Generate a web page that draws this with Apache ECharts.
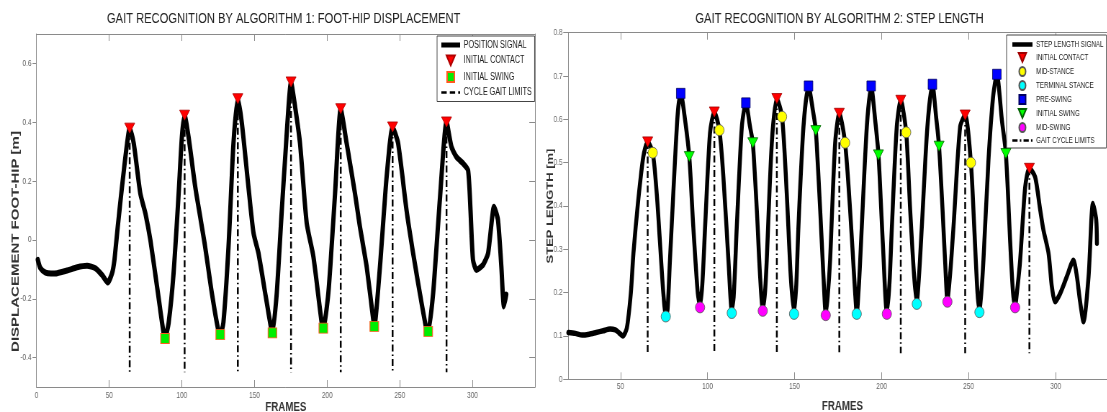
<!DOCTYPE html>
<html><head><meta charset="utf-8">
<script src="https://cdn.jsdelivr.net/npm/echarts@6/dist/echarts.min.js"></script>
<style>
html,body{margin:0;padding:0;overflow:hidden;background:#fff;width:1107px;height:412px}
#c{width:1560px;height:412px;transform:scaleX(0.72);transform-origin:0 0}
</style>
</head><body><div id="c"></div>
<script>
// ---------- LEFT CHART DATA (foot-hip displacement) ----------
const leftFrames = [0.9,2.7,6.2,10,14.2,21,28,34.8,40.5,45.1,49,52,53.6,55.9,58.8,62.3,64.1,66.9,71.4,74.9,78.3,82.9,87.4,88.4,90.9,94.3,97.8,100,101.9,104.6,109.2,112.6,116,120.6,125.2,126.4,128.6,132.1,135.5,138.5,141.3,145.8,149.3,152.7,157.3,161.2,162.3,165.3,168.5,172,175.1,178,181.3,185.9,190.5,196.2,197.3,200.8,205.4,209.3,213.4,219.1,222.5,227.1,231.7,232.4,236.3,240.9,245,248.8,254.6,259.1,263.7,268.3,269.5,272.9,277.5,282.1,285.5,288.9,293.5,296.9,298.6,300.3,302.7,307.2,310.7,314.8,317.5,319.8,321.6,323.2];
const leftValues = [-0.068,-0.096,-0.111,-0.114,-0.113,-0.104,-0.093,-0.088,-0.096,-0.119,-0.145,-0.113,-0.068,0.045,0.18,0.328,0.38,0.328,0.158,0.09,0,-0.158,-0.316,-0.333,-0.282,-0.113,0.158,0.35,0.424,0.35,0.18,0.079,-0.023,-0.18,-0.311,-0.322,-0.28,-0.023,0.328,0.48,0.396,0.18,0.023,-0.045,-0.18,-0.294,-0.316,-0.18,0.08,0.35,0.537,0.45,0.328,0.057,-0.057,-0.282,-0.3,-0.18,0.158,0.446,0.328,0.158,0.045,-0.09,-0.271,-0.294,-0.09,0.215,0.384,0.328,0.1,-0.045,-0.18,-0.305,-0.311,-0.18,0.136,0.401,0.316,0.282,0.26,0.237,0.1,-0.068,-0.102,-0.085,-0.045,0.113,0.068,-0.09,-0.226,-0.186];
const leftContactFrames = [64.1,101.9,138.5,175.1,209.3,245,282.1];
const leftContactValues = [0.38,0.424,0.48,0.537,0.446,0.384,0.401];
const leftSwingFrames = [88.4,126.4,162.3,197.3,232.4,269.5];
const leftSwingValues = [-0.335,-0.322,-0.316,-0.3,-0.294,-0.311];
const leftLimitBottom = -0.45;
const leftXTicks = [0,50,100,150,200,250,300];
const leftYTicks = [-0.4,-0.2,0,0.2,0.4,0.6];

// ---------- RIGHT CHART DATA (step length) ----------
const rightFrames = [20,24,28,32,36,40,44,47,49,51.3,53.6,55.9,57.4,60.2,63.1,65.6,68.5,70.8,72.7,74.6,76,77,78.4,81.3,83,84.6,87.1,89.5,91.8,94.4,95.7,97,98.6,101.4,103.9,106.8,109.1,112,113.9,115,116.8,119.7,122,124.4,126,128.3,130.2,131.7,133,134,136.9,139.8,142.8,145.5,147.8,149.7,151,152.2,155.1,158,160.5,162.2,164.7,166.6,167.9,169,170.4,173.3,175.7,179,181.9,184.8,185.7,187,188.6,191.5,194,196.3,198.2,200.7,203,204.5,205.9,208.7,211,214.1,216.4,218.7,220.2,221.5,223.1,226.3,229.2,231.3,233,235.5,236.5,237.8,239.5,241.3,245.1,248,251.3,253.2,255.1,256.2,257.3,258.5,261.4,264,266.2,269.1,271.4,273.9,275.5,276.7,278,279.6,282.5,284.9,288.2,291.1,293,295.9,297.8,299.7,302.6,306.4,310.2,312.2,314,316,318.9,321.4,323.3,323.7];
const rightValues = [0.108,0.106,0.102,0.104,0.108,0.112,0.116,0.114,0.108,0.1,0.118,0.198,0.29,0.414,0.514,0.548,0.523,0.429,0.314,0.198,0.15,0.16,0.275,0.506,0.62,0.66,0.598,0.514,0.352,0.198,0.17,0.22,0.352,0.568,0.617,0.575,0.467,0.275,0.16,0.19,0.352,0.583,0.638,0.583,0.546,0.391,0.237,0.162,0.2,0.275,0.545,0.648,0.606,0.429,0.237,0.155,0.22,0.352,0.583,0.677,0.621,0.574,0.391,0.237,0.152,0.19,0.275,0.545,0.614,0.546,0.391,0.198,0.152,0.22,0.352,0.583,0.677,0.598,0.518,0.314,0.155,0.22,0.352,0.583,0.644,0.57,0.391,0.237,0.178,0.24,0.352,0.583,0.681,0.606,0.538,0.352,0.27,0.182,0.25,0.352,0.583,0.61,0.5,0.352,0.198,0.16,0.2,0.275,0.506,0.65,0.704,0.598,0.521,0.314,0.2,0.17,0.21,0.275,0.444,0.487,0.467,0.391,0.344,0.291,0.214,0.179,0.198,0.237,0.275,0.237,0.18,0.133,0.237,0.406,0.368,0.314];
const rContactFrames = [65.6,103.9,139.8,175.7,211,248,284.9];
const rContactValues = [0.548,0.617,0.648,0.614,0.644,0.61,0.487];
const midStanceFrames = [68.5,106.8,142.8,179,214.1,251.3];
const midStanceValues = [0.523,0.575,0.606,0.546,0.57,0.5];
const termStanceFrames = [76,113.9,149.7,185.7,220.2,256.2];
const termStanceValues = [0.145,0.153,0.151,0.151,0.174,0.155];
const preSwingFrames = [84.6,122,158,194,229.2,266.2];
const preSwingValues = [0.66,0.638,0.677,0.677,0.681,0.704];
const initSwingFrames = [89.5,126,162.2,198.2,233,271.4];
const initSwingValues = [0.514,0.546,0.574,0.518,0.538,0.521];
const midSwingFrames = [95.7,131.7,167.9,203,237.8,276.7];
const midSwingValues = [0.166,0.158,0.148,0.151,0.179,0.166];
const rightLimitBottom = 0.06;
const rightXTicks = [50,100,150,200,250,300];
const rightYTicks = [0,0.1,0.2,0.3,0.4,0.5,0.6,0.7,0.8];

// ---------- helpers ----------
const FONT = '"Liberation Sans", Arial, Helvetica, sans-serif';
const AX = '#8a8a8a';
const pairs = (xs, ys) => xs.map((x, i) => [x, ys[i]]);
const limits = (xs, tops, bottom) => {
  const d = [];
  xs.forEach((x, i) => { d.push([x, tops[i]], [x, bottom], [x, '-']); });
  return d;
};
const TRI_DOWN = 'path://M0,0L10,0L5,8.5Z';
const SQUARE = 'path://M0,0H10V10H0Z';
const ICON_THICK_L = 'path://M0,0H26V5H0Z';
const ICON_THICK_R = 'path://M0,0H28V4.5H0Z';
const ICON_DASH_L = 'path://M0,0H7V2.5H0Z M11,0H18V2.5H11Z M22,0H24.5V2.5H22Z';
const ICON_DASH_R = 'path://M0,0H7V2.2H0Z M10,0H12V2.2H10Z M15,0H22V2.2H15Z M25,0H27V2.2H25Z';

function xAx(grid, min, max, ticks, labels, pos, nameGap, labelMargin) {
  const a = {
    gridIndex: grid, type: 'value', min: min, max: max, position: pos,
    axisLine: { show: true, onZero: false, lineStyle: { color: AX, width: 1 } },
    axisTick: { show: true, inside: true, length: 7, customValues: ticks, lineStyle: { color: AX } },
    axisLabel: { show: !!labels, customValues: labels || ticks, fontSize: 9, color: '#666', fontFamily: FONT, margin: labelMargin || 4 },
    splitLine: { show: false }
  };
  if (pos === 'bottom') {
    a.name = 'FRAMES'; a.nameLocation = 'middle'; a.nameGap = nameGap; a.nameMoveOverlap = false;
    a.nameTextStyle = { fontSize: 13.5, fontWeight: 'bold', color: '#333', fontFamily: FONT };
  }
  return a;
}

const chart = echarts.init(document.getElementById('c'), null, { renderer: 'canvas' });
chart.setOption({
  animation: false,
  backgroundColor: '#fff',
  title: [
    { text: 'GAIT RECOGNITION BY ALGORITHM 1: FOOT-HIP DISPLACEMENT', left: 389, top: 6, textAlign: 'center',
      textStyle: { fontSize: 15.5, fontWeight: 'normal', color: '#222', fontFamily: FONT } },
    { text: 'GAIT RECOGNITION BY ALGORITHM 2: STEP LENGTH', left: 1161, top: 6, textAlign: 'center',
      textStyle: { fontSize: 15.5, fontWeight: 'normal', color: '#222', fontFamily: FONT } }
  ],
  grid: [
    { left: 50.7, top: 34, width: 692.4, height: 353, outerBoundsMode: 'none', containLabel: false },
    { left: 789.3, top: 32.7, width: 761.5, height: 346.6, outerBoundsMode: 'none', containLabel: false }
  ],
  legend: [
    { data: [
        { name: 'POSITION SIGNAL', icon: ICON_THICK_L },
        { name: 'INITIAL CONTACT', icon: TRI_DOWN },
        { name: 'INITIAL SWING', icon: SQUARE },
        { name: 'CYCLE GAIT LIMITS', icon: ICON_DASH_L }
      ],
      orient: 'vertical', left: 607, top: 36, itemWidth: 26, itemHeight: 10, itemGap: 4.5,
      padding: [4, 4, 4, 6], borderColor: '#444', borderWidth: 1, backgroundColor: '#fff',
      selectedMode: false, textStyle: { fontSize: 10, lineHeight: 10, color: '#222', fontFamily: FONT } },
    { data: [
        { name: 'STEP LENGTH SIGNAL', icon: ICON_THICK_R },
        { name: 'INITIAL CONTACT ', icon: TRI_DOWN },
        { name: 'MID-STANCE', icon: 'circle' },
        { name: 'TERMINAL STANCE', icon: 'circle' },
        { name: 'PRE-SWING', icon: SQUARE },
        { name: 'INITIAL SWING ', icon: TRI_DOWN },
        { name: 'MID-SWING', icon: 'circle' },
        { name: 'GAIT CYCLE LIMITS', icon: ICON_DASH_R }
      ],
      orient: 'vertical', left: 1398, top: 35, itemWidth: 28, itemHeight: 9, itemGap: 3,
      padding: [5, 4, 3, 8], borderColor: '#444', borderWidth: 1, backgroundColor: '#fff',
      selectedMode: false, textStyle: { fontSize: 8.6, lineHeight: 9, color: '#222', fontFamily: FONT } }
  ],
  xAxis: [
    xAx(0, 0, 343, [50, 100, 150, 200, 250, 300], leftXTicks, 'bottom', 13, 4.5),
    xAx(0, 0, 343, [50, 100, 150, 200, 250, 300], null, 'top'),
    xAx(1, 20, 335, rightXTicks, rightXTicks, 'bottom', 20, 3),
    xAx(1, 20, 335, rightXTicks, null, 'top')
  ],
  yAxis: [
    { gridIndex: 0, type: 'value', min: -0.5, max: 0.7, position: 'left',
      axisLine: { show: true, onZero: false, lineStyle: { color: AX } },
      axisTick: { show: true, inside: false, length: 5.5, customValues: leftYTicks, lineStyle: { color: AX } },
      axisLabel: { customValues: leftYTicks, fontSize: 9, color: '#666', fontFamily: FONT, margin: 7 },
      splitLine: { show: false },
      name: 'DISPLACEMENT FOOT-HIP [m]', nameLocation: 'middle', nameGap: 21, nameMoveOverlap: false,
      nameTextStyle: { fontSize: 15, fontWeight: 'bold', color: '#333', fontFamily: FONT, padding: [0, 62, 0, 0] } },
    { gridIndex: 0, type: 'value', min: -0.5, max: 0.7, position: 'right',
      axisLine: { show: true, onZero: false, lineStyle: { color: AX } },
      axisTick: { show: true, inside: true, length: 8, customValues: leftYTicks, lineStyle: { color: AX } },
      axisLabel: { show: false }, splitLine: { show: false } },
    { gridIndex: 1, type: 'value', min: 0, max: 0.8, position: 'left',
      axisLine: { show: true, onZero: false, lineStyle: { color: AX } },
      axisTick: { show: true, inside: false, length: 7, customValues: rightYTicks, lineStyle: { color: AX } },
      axisLabel: { customValues: rightYTicks, fontSize: 9, color: '#666', fontFamily: FONT, margin: 8 },
      splitLine: { show: false },
      name: 'STEP LENGTH [m]', nameLocation: 'middle', nameGap: 18, nameMoveOverlap: false,
      nameTextStyle: { fontSize: 13, fontWeight: 'bold', color: '#333', fontFamily: FONT } }
  ],
  series: [
    // left chart
    { name: 'POSITION SIGNAL', type: 'line', xAxisIndex: 0, yAxisIndex: 0, data: pairs(leftFrames, leftValues),
      symbol: 'none', smooth: 0.2, lineStyle: { color: '#000', width: 6, cap: 'round', join: 'round' }, itemStyle: { color: '#000' }, z: 2 },
    { name: 'CYCLE GAIT LIMITS', type: 'line', xAxisIndex: 0, yAxisIndex: 0, data: limits(leftContactFrames, leftContactValues, leftLimitBottom),
      symbol: 'none', connectNulls: false, lineStyle: { color: '#000', width: 2.5, type: [7, 3, 1.5, 3] }, itemStyle: { color: '#000' }, z: 3 },
    { name: 'INITIAL CONTACT', type: 'scatter', xAxisIndex: 0, yAxisIndex: 0, data: pairs(leftContactFrames, leftContactValues),
      symbol: TRI_DOWN, symbolSize: [14, 10], itemStyle: { color: '#ff0000', borderColor: '#b00000', borderWidth: 0.8, opacity: 1 }, z: 5 },
    { name: 'INITIAL SWING', type: 'scatter', xAxisIndex: 0, yAxisIndex: 0, data: pairs(leftSwingFrames, leftSwingValues),
      symbol: SQUARE, symbolSize: [12, 10], itemStyle: { color: '#00ee00', borderColor: '#ff5a1e', borderWidth: 1, opacity: 1 }, z: 5 },
    // right chart
    { name: 'STEP LENGTH SIGNAL', type: 'line', xAxisIndex: 2, yAxisIndex: 2, data: pairs(rightFrames, rightValues),
      symbol: 'none', smooth: 0.25, lineStyle: { color: '#000', width: 5.5, cap: 'round', join: 'round' }, itemStyle: { color: '#000' }, z: 2 },
    { name: 'GAIT CYCLE LIMITS', type: 'line', xAxisIndex: 2, yAxisIndex: 2, data: limits(rContactFrames, rContactValues, rightLimitBottom),
      symbol: 'none', connectNulls: false, lineStyle: { color: '#000', width: 2.5, type: [7, 3, 1.5, 3] }, itemStyle: { color: '#000' }, z: 3 },
    { name: 'INITIAL CONTACT ', type: 'scatter', xAxisIndex: 2, yAxisIndex: 2, data: pairs(rContactFrames, rContactValues),
      symbol: TRI_DOWN, symbolSize: [14, 10], itemStyle: { color: '#ff0000', borderColor: '#a00000', borderWidth: 0.8, opacity: 1 }, z: 5 },
    { name: 'MID-STANCE', type: 'scatter', xAxisIndex: 2, yAxisIndex: 2, data: pairs(midStanceFrames, midStanceValues),
      symbol: 'circle', symbolSize: [13, 11], itemStyle: { color: '#ffff00', borderColor: '#555', borderWidth: 0.8, opacity: 1 }, z: 5 },
    { name: 'TERMINAL STANCE', type: 'scatter', xAxisIndex: 2, yAxisIndex: 2, data: pairs(termStanceFrames, termStanceValues),
      symbol: 'circle', symbolSize: [13, 11], itemStyle: { color: '#00ffff', borderColor: '#555', borderWidth: 0.8, opacity: 1 }, z: 5 },
    { name: 'PRE-SWING', type: 'scatter', xAxisIndex: 2, yAxisIndex: 2, data: pairs(preSwingFrames, preSwingValues),
      symbol: SQUARE, symbolSize: [12, 10], itemStyle: { color: '#0000ff', borderColor: '#000060', borderWidth: 0.8, opacity: 1 }, z: 5 },
    { name: 'INITIAL SWING ', type: 'scatter', xAxisIndex: 2, yAxisIndex: 2, data: pairs(initSwingFrames, initSwingValues),
      symbol: TRI_DOWN, symbolSize: [14, 10], itemStyle: { color: '#00ff00', borderColor: '#006000', borderWidth: 0.8, opacity: 1 }, z: 5 },
    { name: 'MID-SWING', type: 'scatter', xAxisIndex: 2, yAxisIndex: 2, data: pairs(midSwingFrames, midSwingValues),
      symbol: 'circle', symbolSize: [13, 11], itemStyle: { color: '#ff00ff', borderColor: '#555', borderWidth: 0.8, opacity: 1 }, z: 5 }
  ]
});
</script>
</body></html>
